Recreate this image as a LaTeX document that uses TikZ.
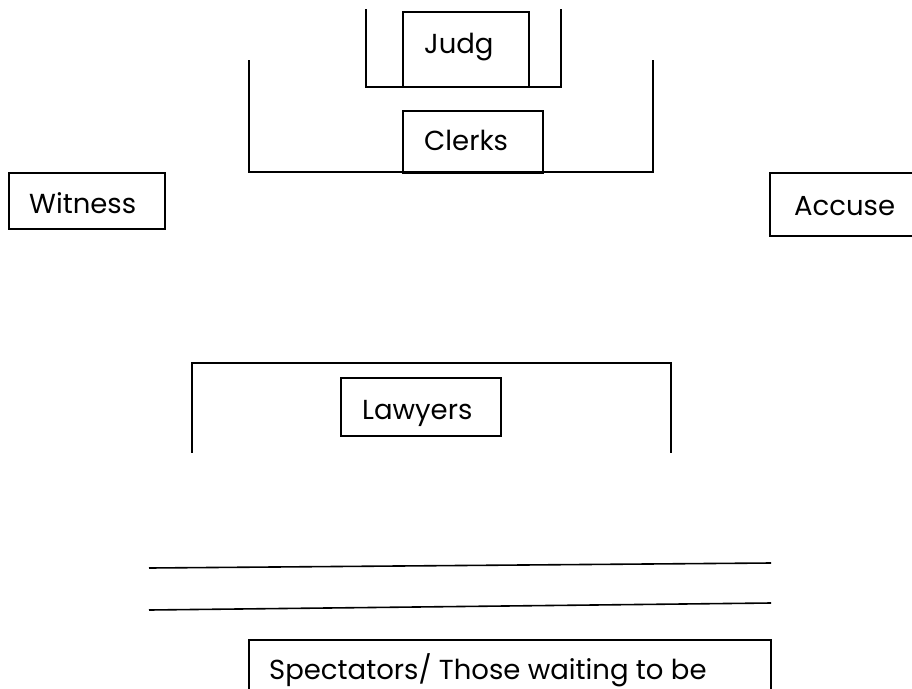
\documentclass[tikz,border=0pt]{standalone}
\usepackage{fontspec}
\setmainfont{Poppins}
\begin{document}
\begin{tikzpicture}[x=1pt,y=-1pt,
  wall/.style={line width=1.6pt, line cap=rect},
  seat/.style={draw, line width=1.4pt},
  lbl/.style={anchor=base west, inner sep=0pt, font=\fontsize{27.5}{32}\selectfont}]
\useasboundingbox (0,0) rectangle (912,688);
% judge bench
\draw[wall] (366,10) -- (366,87) -- (561,87) -- (561,10);
\draw[seat] (403,12) rectangle (529,87);
\node[lbl] (judg) at (424,53) {Judg};
% clerks bench
\draw[wall] (249,61) -- (249,172) -- (653,172) -- (653,61);
\draw[seat] (403,111) rectangle (543,173);
\node[lbl] (clerks) at (424,150) {Clerks};
% witness
\draw[seat] (9,173) rectangle (165,229);
\node[lbl] (witness) at (29,213) {Witness};
% accused
\draw[seat] (770,173) rectangle (930,236);
\node[lbl] (accuse) at (794,215) {Accuse};
% lawyers
\draw[wall] (192,452) -- (192,363) -- (671,363) -- (671,452);
\draw[seat] (341,378) rectangle (501,436);
\node[lbl] (lawyers) at (362,419) {Lawyers};
% bar lines
\coordinate (a1) at (149,568); \coordinate (b1) at (771,563);
\coordinate (a2) at (149,610); \coordinate (b2) at (771,603);
\draw[wall, line cap=butt] (a1) -- (b1);
\draw[wall, line cap=butt] (a2) -- (b2);
% spectators
\draw[seat] (249,640) rectangle (771,720);
\node[lbl] (spect) at (269,679) {Spectators/ Those waiting to be};
\end{tikzpicture}
\end{document}
